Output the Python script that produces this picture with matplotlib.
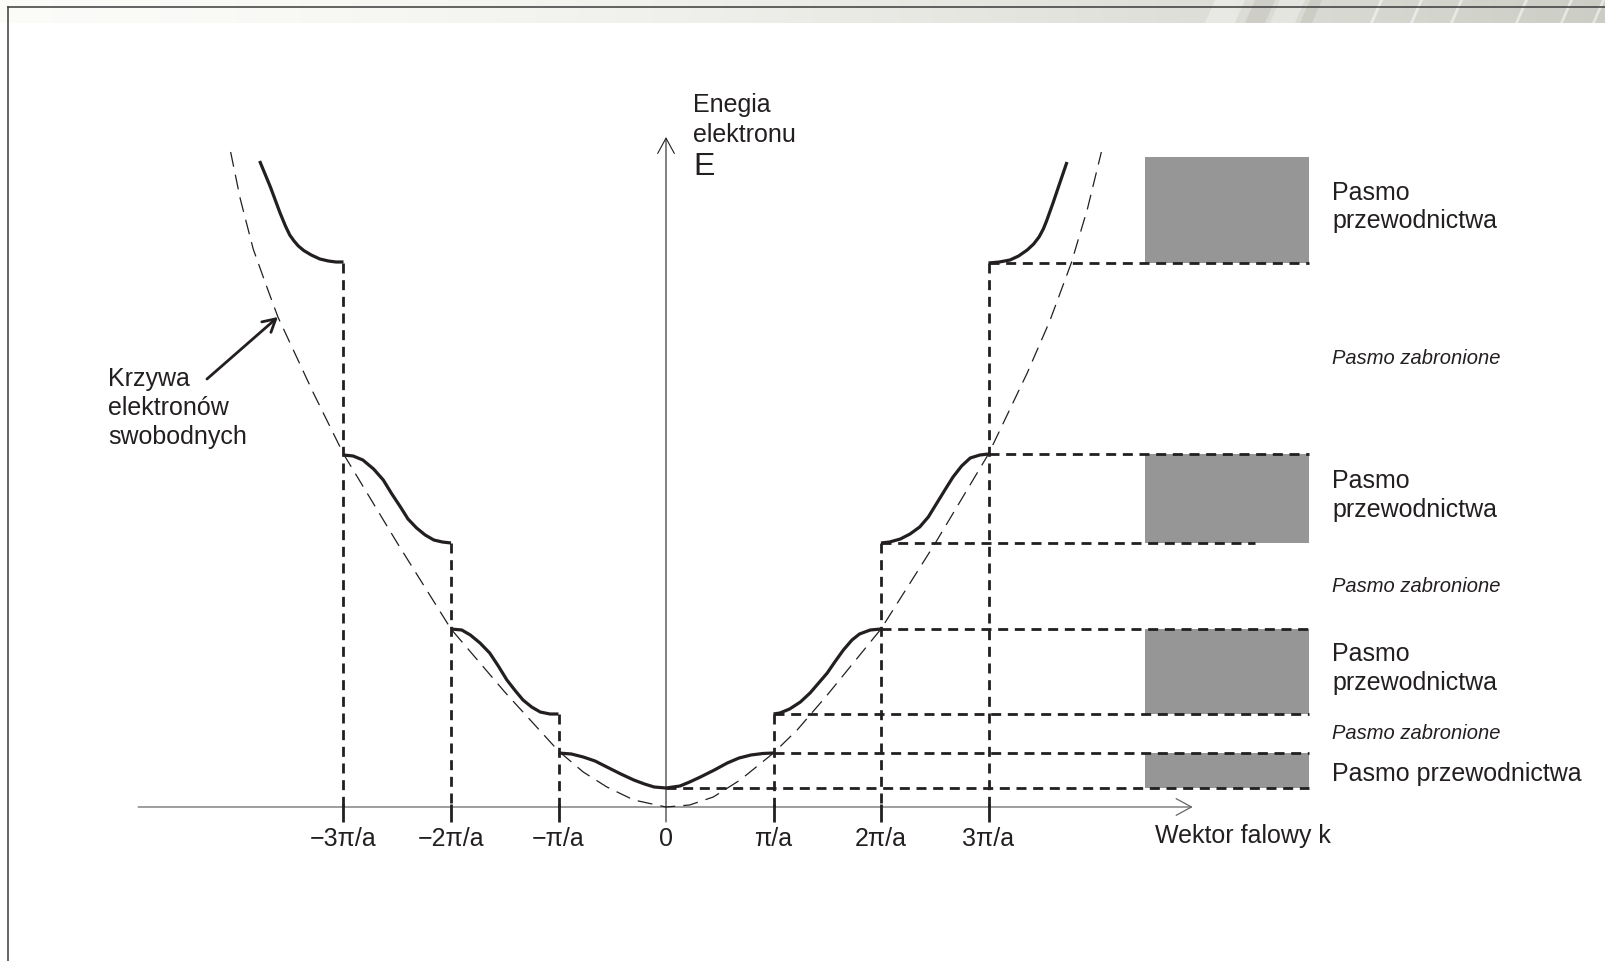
import matplotlib
matplotlib.use('Agg')
import matplotlib.pyplot as plt
from matplotlib.patches import Rectangle, Polygon
import numpy as np

plt.rcParams['font.family'] = ['Liberation Sans', 'DejaVu Sans']

# k in units of pi/a, energy in arbitrary units
tick_k = [-3, -2, -1, 0, 1, 2, 3]
tick_labels = ['\u22123\u03c0/a', '\u22122\u03c0/a', '\u2212\u03c0/a', '0',
               '\u03c0/a', '2\u03c0/a', '3\u03c0/a']

# free electron curve (thin dashed)
free_k = [-4.05, -3.96, -3.84, -3.72, -3.61, -3.28, -3.0, -2.5, -2.0, -1.5, -1.0, -0.77,
          -0.55, -0.30, 0.0, 0.22, 0.44, 0.69, 1.0, 1.22, 1.5, 2.0, 2.5, 3.0,
          3.36, 3.57, 3.77, 3.92, 4.05]
free_E = [6.55, 6.08, 5.58, 5.22, 4.90, 4.14, 3.53, 2.64, 1.78, 1.15, 0.56, 0.35,
          0.20, 0.07, 0.0, 0.02, 0.10, 0.27, 0.54, 0.77, 1.12, 1.78, 2.63, 3.53,
          4.34, 4.86, 5.44, 5.98, 6.55]

# allowed band curves (thick solid)
band1_k = [-1.0, -0.88, -0.77, -0.66, -0.55, -0.42, -0.30, -0.2, -0.11, 0.0,
           0.13, 0.22, 0.32, 0.45, 0.57, 0.68, 0.79, 0.9, 1.0]
band1_E = [0.54, 0.53, 0.50, 0.46, 0.40, 0.33, 0.27, 0.23, 0.20, 0.19,
           0.21, 0.25, 0.30, 0.37, 0.44, 0.49, 0.52, 0.535, 0.54]
band2l_k = [-2.0, -1.9, -1.82, -1.73, -1.64, -1.56, -1.48, -1.40, -1.33, -1.25,
            -1.17, -1.08, -1.0]
band2l_E = [1.78, 1.77, 1.72, 1.64, 1.54, 1.41, 1.27, 1.16, 1.07, 1.00,
            0.95, 0.93, 0.93]
band2r_k = [1.0, 1.06, 1.15, 1.25, 1.34, 1.42, 1.5, 1.57, 1.65, 1.73, 1.8, 1.9, 2.0]
band2r_E = [0.93, 0.94, 0.98, 1.05, 1.14, 1.24, 1.34, 1.45, 1.57, 1.67, 1.73, 1.77, 1.78]
band3l_k = [-3.0, -2.91, -2.82, -2.72, -2.63, -2.55, -2.47, -2.40, -2.32, -2.24,
            -2.16, -2.08, -2.0]
band3l_E = [3.52, 3.51, 3.47, 3.38, 3.27, 3.13, 3.00, 2.88, 2.79, 2.72,
            2.67, 2.65, 2.64]
band3r_k = [2.0, 2.08, 2.18, 2.27, 2.36, 2.44, 2.52, 2.6, 2.67, 2.75, 2.83, 2.92, 3.0]
band3r_E = [2.64, 2.65, 2.68, 2.73, 2.80, 2.90, 3.04, 3.18, 3.30, 3.41, 3.49, 3.52, 3.53]
band4l_k = [-3.78, -3.68, -3.59, -3.54, -3.50, -3.46, -3.42, -3.37, -3.30, -3.22,
            -3.14, -3.07, -3.0]
band4l_E = [6.46, 6.20, 5.94, 5.81, 5.72, 5.66, 5.61, 5.565, 5.52, 5.48,
            5.46, 5.45, 5.45]
band4r_k = [3.0, 3.1, 3.2, 3.28, 3.36, 3.42, 3.47, 3.51, 3.54, 3.6, 3.66, 3.73]
band4r_E = [5.44, 5.45, 5.47, 5.51, 5.57, 5.63, 5.70, 5.78, 5.86, 6.04, 6.23, 6.45]

# band edges (bottom, top) and where the edges start on the k axis
band_bottom = [0.19, 0.93, 2.64, 5.44]
band_top = [0.54, 1.78, 3.53, 6.50]
bottom_start_k = [0, 1, 2, 3]
top_start_k = [1, 2, 3, None]
band_names = [['Pasmo przewodnictwa'], ['Pasmo', 'przewodnictwa'],
              ['Pasmo', 'przewodnictwa'], ['Pasmo', 'przewodnictwa']]
gap_name = 'Pasmo zabronione'

# vertical dashed lines at zone boundaries and their top energy
zone_k = [-3, -2, -1, 1, 2, 3]
zone_top = [5.44, 2.64, 0.93, 0.93, 2.64, 5.44]

ink = '#231f20'
W, H = 1605, 961
fig = plt.figure(figsize=(W / 100, H / 100), dpi=100)
fig.patch.set_facecolor('white')

# background / frame in pixel coords
bg = fig.add_axes([0, 0, 1, 1], zorder=0)
bg.set_xlim(0, W)
bg.set_ylim(H, 0)
bg.axis('off')
t = np.linspace(0, 1, 300)
c0 = np.array([0.985, 0.985, 0.975])
c1 = np.array([0.80, 0.805, 0.77])
grad = c0[None, :] + (c1 - c0)[None, :] * (t ** 1.6)[:, None]
bg.imshow(grad[None, :, :], extent=(0, W, 23, 0), aspect='auto', zorder=0)
for x0, w, col, a in [(1205, 30, 'white', 0.35), (1245, 20, '#9a9a90', 0.2),
                      (1270, 25, 'white', 0.3), (1300, 12, '#9a9a90', 0.2),
                      (1370, 3, 'white', 0.5), (1410, 3, 'white', 0.5),
                      (1450, 3, 'white', 0.5), (1515, 3, 'white', 0.5),
                      (1560, 3, 'white', 0.5), (1592, 3, 'white', 0.5)]:
    bg.add_patch(Polygon([(x0, 23), (x0 + w, 23), (x0 + w + 10, 0), (x0 + 10, 0)],
                         closed=True, fc=col, ec='none', alpha=a, zorder=1))
bg.plot([8, W], [7.3, 7.3], color='#3a3a3a', lw=1.1, zorder=2)
bg.plot([8, 8], [7.3, H], color='#3a3a3a', lw=1.1, zorder=2)

# main diagram: 1 pi/a = 107.5 px, 1 energy unit = 100 px
ax = fig.add_axes([0, 0, 1, 1], zorder=1)
ax.patch.set_alpha(0)
ax.axis('off')
ax.set_xlim(-666 / 107.5, (W - 666) / 107.5)
ax.set_ylim((807 - H) / 100, 807 / 100)

thick_dash = dict(color=ink, lw=2.0, dashes=(3.6, 2.4), solid_capstyle='butt')

# axes arrows
ax.annotate('', xy=(4.90, 0), xytext=(-4.91, 0),
            arrowprops=dict(arrowstyle='->,head_length=0.55,head_width=0.3',
                            lw=0.9, color='#666666', mutation_scale=20,
                            shrinkA=0, shrinkB=0), zorder=2)
ax.annotate('', xy=(0, 6.70), xytext=(0, -0.15),
            arrowprops=dict(arrowstyle='->,head_length=0.55,head_width=0.3',
                            lw=0.8, color=ink, mutation_scale=20,
                            shrinkA=0, shrinkB=0), zorder=2)

# gray band rectangles
rect_k0, rect_k1 = 4.46, 5.98
for b, tp in zip(band_bottom, band_top):
    ax.add_patch(Rectangle((rect_k0, b), rect_k1 - rect_k0, tp - b,
                           fc='#969696', ec='none', zorder=1))

# horizontal dashed band edges
for i, (b, k0) in enumerate(zip(band_bottom, bottom_start_k)):
    k1 = 5.48 if i == 2 else rect_k1
    ax.plot([k0, k1], [b, b], **thick_dash, zorder=3)
for tp, k0 in zip(band_top, top_start_k):
    if k0 is not None:
        ax.plot([k0, rect_k1], [tp, tp], **thick_dash, zorder=3)

# vertical dashed zone boundaries and ticks
for k, top in zip(zone_k, zone_top):
    ax.plot([k, k], [top, 0], **thick_dash, zorder=3)
    ax.plot([k, k], [0.03, -0.15], color=ink, lw=2.0, solid_capstyle='butt', zorder=3)

# free electron parabola
ax.plot(free_k, free_E, color=ink, lw=0.9, dashes=(12, 6.5), zorder=4)

# band curves
for kk, ee in [(band1_k, band1_E), (band2l_k, band2l_E), (band2r_k, band2r_E),
               (band3l_k, band3l_E), (band3r_k, band3r_E),
               (band4l_k, band4l_E), (band4r_k, band4r_E)]:
    ax.plot(kk, ee, color=ink, lw=2.3, solid_joinstyle='round',
            solid_capstyle='butt', zorder=5)

# tick labels
for k, lab in zip(tick_k, tick_labels):
    ax.text(k, -0.325, lab, ha='center', va='center', fontsize=18, color=ink)
ax.text(4.55, -0.29, 'Wektor falowy k', ha='left', va='center', fontsize=18, color=ink)

# energy axis label
ax.text(0.254, 7.02, 'Enegia', ha='left', va='center', fontsize=18, color=ink)
ax.text(0.254, 6.72, 'elektronu', ha='left', va='center', fontsize=18, color=ink)
ax.text(0.254, 6.40, 'E', ha='left', va='center', fontsize=23, color=ink)

# free electron note
for j, line in enumerate(['Krzywa', 'elektronów', 'swobodnych']):
    ax.text(-5.19, 4.28 - 0.29 * j, line, ha='left', va='center', fontsize=18, color=ink)
ax.annotate('', xy=(-3.61, 4.90), xytext=(-4.27, 4.28),
            arrowprops=dict(arrowstyle='->,head_length=0.45,head_width=0.25',
                            lw=2.0, color=ink, mutation_scale=20,
                            shrinkA=0, shrinkB=0), zorder=6)

# band labels
label_k = 6.195
for b, tp, lines in zip(band_bottom, band_top, band_names):
    mid = (b + tp) / 2
    if len(lines) == 1:
        ax.text(label_k, mid - 0.03, lines[0], ha='left', va='center', fontsize=18, color=ink)
    else:
        ax.text(label_k, mid + 0.03 + 0.143, lines[0], ha='left', va='center', fontsize=18, color=ink)
        ax.text(label_k, mid + 0.03 - 0.143, lines[1], ha='left', va='center', fontsize=18, color=ink)
for i in range(3):
    gmid = (band_top[i] + band_bottom[i + 1]) / 2
    ax.text(label_k, gmid, gap_name, ha='left', va='center', fontsize=14.5,
            style='italic', color=ink)

fig.savefig('out.png', dpi=100)
